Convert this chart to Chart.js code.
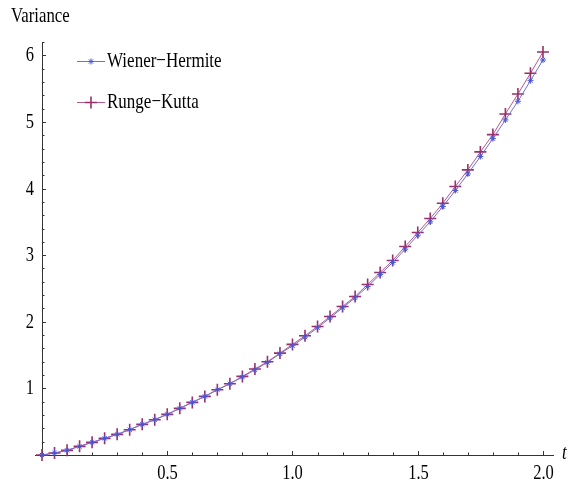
<!DOCTYPE html>
<html>
<head>
<meta charset="utf-8">
<script src="https://cdn.jsdelivr.net/npm/chart.js@4.4.0/dist/chart.umd.min.js"></script>
<style>
html, body { margin: 0; padding: 0; background: #fff; }
</style>
</head>
<body>
<canvas id="varChart" width="572" height="489"></canvas>
<script>
// time steps (t)
const tValues = [
    0, 0.05, 0.1, 0.15, 0.2, 0.25, 0.3, 0.35, 0.4, 0.45,
    0.5, 0.55, 0.6, 0.65, 0.7, 0.75, 0.8, 0.85, 0.9, 0.95,
    1.0, 1.05, 1.1, 1.15, 1.2, 1.25, 1.3, 1.35, 1.4, 1.45,
    1.5, 1.55, 1.6, 1.65, 1.7, 1.75, 1.8, 1.85, 1.9, 1.95, 2.0
];

// variance
const wienerHermite = [
    0, 0.03, 0.07, 0.13, 0.19, 0.25, 0.31, 0.38, 0.46, 0.53,
    0.61, 0.70, 0.79, 0.88, 0.98, 1.07, 1.17, 1.28, 1.39, 1.52,
    1.64, 1.77, 1.91, 2.06, 2.21, 2.36, 2.53, 2.71, 2.89, 3.09,
    3.30, 3.50, 3.73, 3.97, 4.22, 4.48, 4.75, 5.03, 5.31, 5.62, 5.93
];

const rungeKutta = [
    0, 0.03, 0.07, 0.13, 0.19, 0.25, 0.31, 0.38, 0.46, 0.53,
    0.61, 0.70, 0.79, 0.88, 0.98, 1.07, 1.18, 1.29, 1.40, 1.53,
    1.66, 1.79, 1.93, 2.08, 2.23, 2.38, 2.56, 2.74, 2.92, 3.13,
    3.34, 3.55, 3.78, 4.03, 4.28, 4.55, 4.81, 5.12, 5.42, 5.73, 6.05
];

const seriesNames = ['Wiener\u2212Hermite', 'Runge\u2212Kutta'];

const serif = "'Liberation Serif', 'Times New Roman', serif";
const stretch = 1.28; // text in the original is drawn tall and narrow

function isMultiple(v, step) {
    const q = v / step;
    return Math.abs(q - Math.round(q)) < 1e-6;
}

function tallText(ctx, text, x, y, size, align, italic) {
    ctx.save();
    ctx.font = (italic ? 'italic ' : '') + size + 'px ' + serif;
    ctx.textAlign = align;
    ctx.textBaseline = 'middle';
    ctx.fillStyle = '#000';
    ctx.translate(x, y);
    ctx.scale(1, stretch);
    ctx.fillText(text, 0, 0);
    ctx.restore();
}

// Mathematica style axes: ticks point inward, labels drawn tall
const mathAxes = {
    id: 'mathAxes',
    beforeDatasetsDraw(chart) {
        const ctx = chart.ctx;
        const xs = chart.scales.x;
        const ys = chart.scales.y;
        const area = chart.chartArea;

        ctx.save();
        ctx.strokeStyle = '#333';
        ctx.lineWidth = 1;

        // small overhang of the t axis left of the origin
        ctx.beginPath();
        ctx.moveTo(35, area.bottom + 0.5);
        ctx.lineTo(area.left, area.bottom + 0.5);
        ctx.stroke();

        xs.ticks.forEach(tk => {
            if (tk.value <= 0) return;
            const px = Math.round(xs.getPixelForValue(tk.value)) + 0.5;
            const major = isMultiple(tk.value, 0.5);
            const len = major ? 4 : 2.5;
            ctx.beginPath();
            ctx.moveTo(px, area.bottom);
            ctx.lineTo(px, area.bottom - len);
            ctx.stroke();
            if (major) tallText(ctx, tk.value.toFixed(1), px, area.bottom + 18, 16.5, 'center');
        });

        ys.ticks.forEach(tk => {
            if (tk.value <= 0) return;
            const py = Math.round(ys.getPixelForValue(tk.value)) + 0.5;
            const major = isMultiple(tk.value, 1);
            const len = major ? 4 : 2.5;
            ctx.beginPath();
            ctx.moveTo(area.left, py);
            ctx.lineTo(area.left + len, py);
            ctx.stroke();
            if (major) tallText(ctx, String(Math.round(tk.value)), area.left - 8, py, 16.5, 'right');
        });
        ctx.restore();

        tallText(ctx, 'Variance', 11, 16, 16.8, 'left');
        tallText(ctx, 't', 562, 453, 17, 'left', true);
    },
    afterDatasetsDraw(chart) {
        // legend inside the plot, top left
        const ctx = chart.ctx;
        chart.data.datasets.forEach((ds, i) => {
            const y = 61 + i * 41;
            ctx.save();
            ctx.strokeStyle = ds.borderColor;
            ctx.lineWidth = 1;
            ctx.beginPath();
            ctx.moveTo(77, y + 0.5);
            ctx.lineTo(105, y + 0.5);
            ctx.stroke();
            ctx.strokeStyle = ds.pointBorderColor;
            ctx.fillStyle = ds.pointBorderColor;
            ctx.lineWidth = ds.pointBorderWidth;
            if (Chart.helpers && Chart.helpers.drawPoint) {
                Chart.helpers.drawPoint(ctx, {
                    pointStyle: ds.pointStyle,
                    radius: ds.pointRadius,
                    rotation: 0,
                    borderWidth: ds.pointBorderWidth
                }, 91, y + 0.5);
            }
            ctx.restore();
            tallText(ctx, ds.label, 107, y, 17, 'left');
        });
    }
};

const ctx = document.getElementById('varChart').getContext('2d');

new Chart(ctx, {
    type: 'line',
    data: {
        datasets: [
            {
                label: seriesNames[0],
                data: tValues.map((t, i) => ({ x: t, y: wienerHermite[i] })),
                borderColor: '#7070d4',
                borderWidth: 1,
                pointStyle: 'star',
                pointRadius: 3,
                pointBorderColor: '#4a55d6',
                pointBorderWidth: 1,
                pointBackgroundColor: 'transparent',
                tension: 0,
                clip: false
            },
            {
                label: seriesNames[1],
                data: tValues.map((t, i) => ({ x: t, y: rungeKutta[i] })),
                borderColor: '#b5588e',
                borderWidth: 1,
                pointStyle: 'cross',
                pointRadius: 6,
                pointBorderColor: '#9a2f6a',
                pointBorderWidth: 1.6,
                pointBackgroundColor: 'transparent',
                tension: 0,
                clip: false
            }
        ]
    },
    options: {
        responsive: false,
        animation: false,
        layout: { padding: { top: 42, right: 19, left: 0, bottom: 0 } },
        plugins: {
            legend: { display: false },
            title: { display: false },
            tooltip: { enabled: false }
        },
        scales: {
            x: {
                type: 'linear',
                min: 0,
                max: 2.04,
                grid: { display: false, drawTicks: false },
                border: { display: true, color: '#333', width: 1 },
                ticks: { display: false, stepSize: 0.1, autoSkip: false, includeBounds: false },
                afterFit(scale) { scale.height = 34; }
            },
            y: {
                type: 'linear',
                min: 0,
                max: 6.2,
                grid: { display: false, drawTicks: false },
                border: { display: true, color: '#333', width: 1 },
                ticks: { display: false, stepSize: 0.2, autoSkip: false, includeBounds: false },
                afterFit(scale) { scale.width = 42; }
            }
        }
    },
    plugins: [mathAxes]
});
</script>
</body>
</html>
